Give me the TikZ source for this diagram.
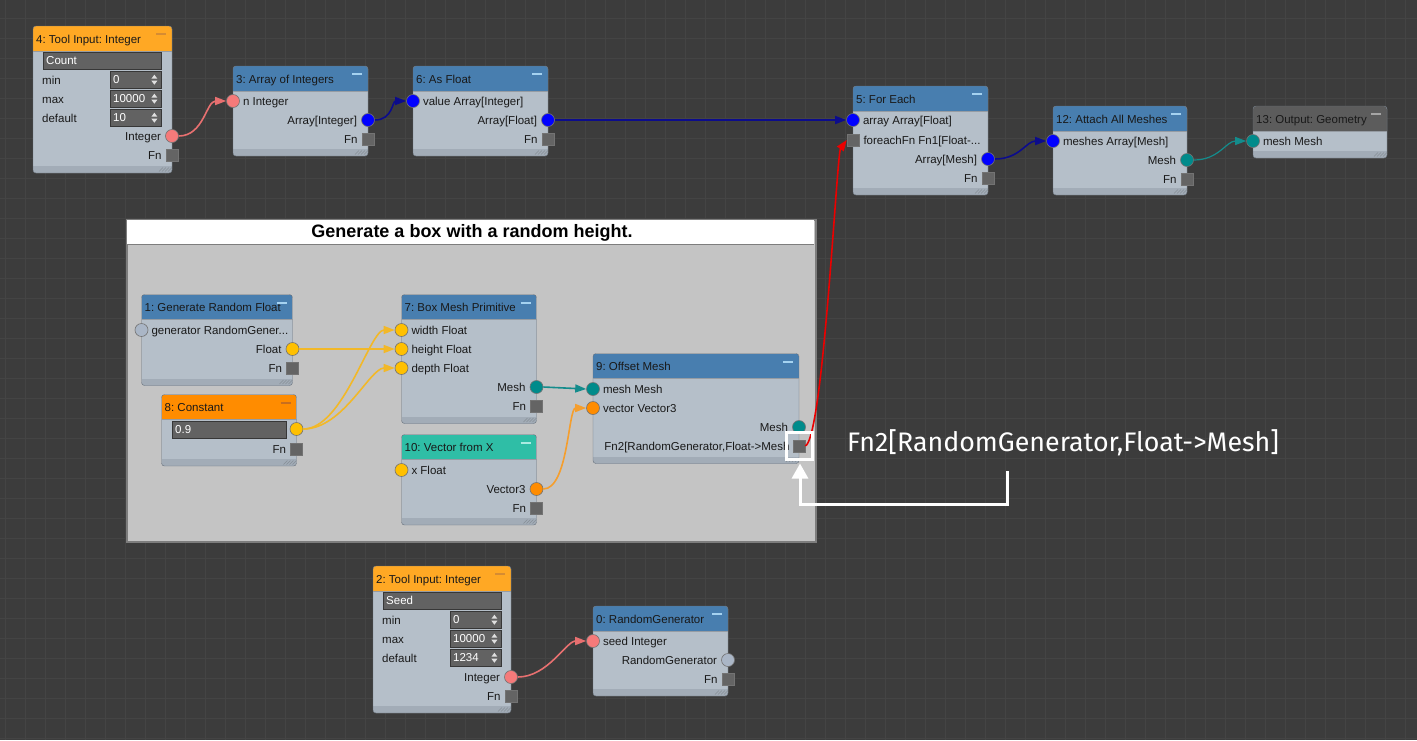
\documentclass[tikz,border=0pt]{standalone}
\usepackage{fontspec}
\setmainfont{Liberation Sans}
\newfontfamily\notefont{Fira Sans}
\usepackage{tikz}
\usetikzlibrary{arrows.meta}
\usetikzlibrary{positioning,calc}
\frenchspacing

\definecolor{canvasBg}{RGB}{60,60,60}
\definecolor{canvasGrid}{RGB}{68,68,68}
\definecolor{bodyFill}{RGB}{181,191,201}
\definecolor{bodyEdge}{RGB}{105,113,123}
\definecolor{footFill}{RGB}{162,172,183}
\definecolor{headBlue}{RGB}{72,126,175}
\definecolor{headInput}{RGB}{255,168,36}
\definecolor{headConst}{RGB}{255,140,0}
\definecolor{headVec}{RGB}{47,190,166}
\definecolor{headOut}{RGB}{92,92,92}
\definecolor{barBlue}{RGB}{165,210,240}
\definecolor{barInput}{RGB}{214,140,50}
\definecolor{barConst}{RGB}{200,110,30}
\definecolor{barVec}{RGB}{170,235,225}
\definecolor{barOut}{RGB}{165,165,165}
\definecolor{groupFill}{RGB}{196,196,196}
\definecolor{groupEdge}{RGB}{125,125,125}
\definecolor{fieldFill}{RGB}{98,98,98}
\definecolor{fieldEdge}{RGB}{55,55,55}
\definecolor{intPort}{RGB}{245,122,122}
\definecolor{intWire}{RGB}{232,112,112}
\definecolor{arrPort}{RGB}{0,0,255}
\definecolor{arrWire}{RGB}{12,12,140}
\definecolor{fltPort}{RGB}{255,192,0}
\definecolor{fltWire}{RGB}{242,184,40}
\definecolor{vecPort}{RGB}{255,140,0}
\definecolor{vecWire}{RGB}{245,158,45}
\definecolor{meshPort}{RGB}{0,139,139}
\definecolor{meshWire}{RGB}{20,140,140}
\definecolor{genPort}{RGB}{170,182,198}
\definecolor{fnPort}{RGB}{100,100,100}
\definecolor{fnWire}{RGB}{235,0,0}

% frame of one graph node: name, x, y, width, height, title, header colour, bar colour
\newcommand{\toolnode}[8]{%
	\node[nodeBody, minimum width=#4pt, minimum height=#5pt, anchor=north west] (#1) at (#2,#3) {};
	\begin{scope}
		\clip[rounded corners=3pt] (#1.north west) rectangle (#1.south east);
		\fill[#7] (#1.north west) rectangle ([yshift=-25pt]#1.north east);
		\fill[footFill] ([yshift=7pt]#1.south west) rectangle (#1.south east);
	\end{scope}
	\draw[bodyEdge, rounded corners=3pt] (#1.north west) rectangle (#1.south east);
	\draw[bodyEdge!70] ([yshift=-25pt]#1.north west) -- ([yshift=-25pt]#1.north east);
	\node[headText, anchor=west] (#1Title) at ([xshift=3pt,yshift=-13pt]#1.north west) {#6};
	\draw[#8, line width=2pt] ([xshift=-16pt,yshift=-8pt]#1.north east) -- ++(10,0);
	\foreach \g in {4,7,10,13}
		\draw[bodyEdge!80] ([xshift=-\g pt,yshift=1.5pt]#1.south east) -- ++(4,-4);
}

\begin{document}
\begin{tikzpicture}[
  x=1pt, y=-1pt,
  headText/.style={font=\fontsize{11.5}{13}\selectfont, text=black!90, inner sep=0pt, text height=9pt, text depth=1pt},
  rowText/.style={font=\fontsize{11.5}{13}\selectfont, text=black!90, inner sep=0pt, text height=9pt, text depth=1pt},
  fieldBox/.style={anchor=north west, fill=fieldFill, draw=fieldEdge, minimum height=17pt, inner xsep=3pt, inner ysep=0pt, align=left, text=white, font=\fontsize{11.5}{13}\selectfont},
  wire/.style={line width=1.6pt, -{Triangle[length=11pt,width=8pt]}}
]
	\tikzstyle{nodeBody} = [rectangle, fill=bodyFill, rounded corners=3pt, inner sep=0pt, outer sep=0pt]
	\tikzstyle{port} = [circle, draw=black!55, line width=0.6pt, minimum size=13pt, inner sep=0pt]
	\tikzstyle{fnSquare} = [rectangle, fill=fnPort, draw=black!55, line width=0.6pt, minimum size=12pt, inner sep=0pt]

	\useasboundingbox (0,0) rectangle (1417,740);
	\fill[canvasBg] (0,0) rectangle (1417,740);
	\foreach \gx in {5,25,...,1405}
		\draw[canvasGrid, line width=1pt] (\gx,0) -- (\gx,740);
	\foreach \gy in {18,38,...,738}
		\draw[canvasGrid, line width=1pt] (0,\gy) -- (1417,\gy);

	% group
	\node[fill=groupFill, draw=groupEdge, line width=2pt, minimum width=689pt, minimum height=322pt, anchor=north west, inner sep=0pt] (groupBox) at (126,219) {};
	\fill[white] (127,220) rectangle (814,244);
	\draw[groupEdge, line width=1pt] (127,244.5) -- (814,244.5);
	\node[font=\fontsize{18}{20}\selectfont\bfseries, inner sep=0pt] (groupTitle) at (472,233) {Generate a box with a random height.};

	% 4: tool input (count)
	\toolnode{toolInput4}{33}{26}{139}{147}{4: Tool Input: Integer}{headInput}{barInput}
	\node[fieldBox, text width=112pt] (n4Name) at (43,52) {Count};
	\node[rowText, anchor=west] (n4MinLabel) at (42,80) {min};
	\node[rowText, anchor=west] (n4MaxLabel) at (42,99) {max};
	\node[rowText, anchor=west] (n4DefLabel) at (42,118) {default};
	\node[fieldBox, text width=45pt] (n4Min) at (110,71) {0};
	\node[fieldBox, text width=45pt] (n4Max) at (110,90) {10000};
	\node[fieldBox, text width=45pt] (n4Def) at (110,109) {10};
	\node[port, fill=intPort] (n4Int) at (172,136) {};
	\node[rowText, left=4pt of n4Int] (n4IntLabel) {Integer};
	\node[fnSquare] (n4Fn) at (172,155) {};
	\node[rowText, left=4pt of n4Fn] (n4FnLabel) {Fn};

	% 3: array of integers
	\toolnode{arrayInts3}{233}{66}{135}{90}{3: Array of Integers}{headBlue}{barBlue}
	\node[port, fill=intPort] (n3In) at (233,101) {};
	\node[rowText, right=3pt of n3In] (n3InLabel) {n Integer};
	\node[port, fill=arrPort] (n3Out) at (368,120) {};
	\node[rowText, left=4pt of n3Out] (n3OutLabel) {Array[Integer]};
	\node[fnSquare] (n3Fn) at (368,139) {};
	\node[rowText, left=4pt of n3Fn] (n3FnLabel) {Fn};

	% 6: as float
	\toolnode{asFloat6}{413}{66}{135}{90}{6: As Float}{headBlue}{barBlue}
	\node[port, fill=arrPort] (n6In) at (413,101) {};
	\node[rowText, right=3pt of n6In] (n6InLabel) {value Array[Integer]};
	\node[port, fill=arrPort] (n6Out) at (548,120) {};
	\node[rowText, left=4pt of n6Out] (n6OutLabel) {Array[Float]};
	\node[fnSquare] (n6Fn) at (548,139) {};
	\node[rowText, left=4pt of n6Fn] (n6FnLabel) {Fn};

	% 5: for each
	\toolnode{forEach5}{853}{86}{135}{109}{5: For Each}{headBlue}{barBlue}
	\node[port, fill=arrPort] (n5In) at (853,120) {};
	\node[rowText, right=3pt of n5In] (n5InLabel) {array Array[Float]};
	\node[fnSquare] (n5FnIn) at (853,140) {};
	\node[rowText, right=4pt of n5FnIn] (n5FnInLabel) {foreachFn Fn1[Float-...};
	\node[port, fill=arrPort] (n5Out) at (988,159) {};
	\node[rowText, left=4pt of n5Out] (n5OutLabel) {Array[Mesh]};
	\node[fnSquare] (n5Fn) at (988,178) {};
	\node[rowText, left=4pt of n5Fn] (n5FnLabel) {Fn};

	% 12: attach all meshes
	\toolnode{attachMeshes12}{1053}{106}{134}{89}{12: Attach All Meshes}{headBlue}{barBlue}
	\node[port, fill=arrPort] (n12In) at (1053,141) {};
	\node[rowText, right=3pt of n12In] (n12InLabel) {meshes Array[Mesh]};
	\node[port, fill=meshPort] (n12Out) at (1187,160) {};
	\node[rowText, left=4pt of n12Out] (n12OutLabel) {Mesh};
	\node[fnSquare] (n12Fn) at (1187,179) {};
	\node[rowText, left=4pt of n12Fn] (n12FnLabel) {Fn};

	% 13: output
	\toolnode{outputGeo13}{1253}{106}{134}{52}{13: Output: Geometry}{headOut}{barOut}
	\node[port, fill=meshPort] (n13In) at (1253,141) {};
	\node[rowText, right=3pt of n13In] (n13InLabel) {mesh Mesh};

	% 1: generate random float
	\toolnode{randomFloat1}{141.5}{294.5}{151}{91}{1: Generate Random Float}{headBlue}{barBlue}
	\node[port, fill=genPort] (n1Gen) at (141.5,330) {};
	\node[rowText, right=3pt of n1Gen] (n1GenLabel) {generator RandomGener...};
	\node[port, fill=fltPort] (n1Out) at (292.5,349) {};
	\node[rowText, left=4pt of n1Out] (n1OutLabel) {Float};
	\node[fnSquare] (n1Fn) at (292.5,368) {};
	\node[rowText, left=4pt of n1Fn] (n1FnLabel) {Fn};

	% 8: constant
	\toolnode{constant8}{161.5}{394.5}{135}{71.5}{8: Constant}{headConst}{barConst}
	\node[fieldBox, text width=108pt] (n8Value) at (172,421) {0.9};
	\node[port, fill=fltPort] (n8Out) at (296.5,429) {};
	\node[fnSquare] (n8Fn) at (296.5,449) {};
	\node[rowText, left=4pt of n8Fn] (n8FnLabel) {Fn};

	% 7: box mesh primitive
	\toolnode{boxMesh7}{401.5}{294.5}{135}{129}{7: Box Mesh Primitive}{headBlue}{barBlue}
	\node[port, fill=fltPort] (n7Width) at (401.5,330) {};
	\node[rowText, right=3pt of n7Width] (n7WidthLabel) {width Float};
	\node[port, fill=fltPort] (n7Height) at (401.5,349) {};
	\node[rowText, right=3pt of n7Height] (n7HeightLabel) {height Float};
	\node[port, fill=fltPort] (n7Depth) at (401.5,368) {};
	\node[rowText, right=3pt of n7Depth] (n7DepthLabel) {depth Float};
	\node[port, fill=meshPort] (n7Out) at (536.5,387) {};
	\node[rowText, left=4pt of n7Out] (n7OutLabel) {Mesh};
	\node[fnSquare] (n7Fn) at (536.5,406) {};
	\node[rowText, left=4pt of n7Fn] (n7FnLabel) {Fn};

	% 10: vector from x
	\toolnode{vecFromX10}{401.5}{434.5}{135}{90.5}{10: Vector from X}{headVec}{barVec}
	\node[port, fill=fltPort] (n10In) at (401.5,470) {};
	\node[rowText, right=3pt of n10In] (n10InLabel) {x Float};
	\node[port, fill=vecPort] (n10Out) at (536.5,489) {};
	\node[rowText, left=4pt of n10Out] (n10OutLabel) {Vector3};
	\node[fnSquare] (n10Fn) at (536.5,508) {};
	\node[rowText, left=4pt of n10Fn] (n10FnLabel) {Fn};

	% 9: offset mesh
	\toolnode{offsetMesh9}{593}{353.5}{206}{110}{9: Offset Mesh}{headBlue}{barBlue}
	\node[port, fill=meshPort] (n9Mesh) at (593,389) {};
	\node[rowText, right=3pt of n9Mesh] (n9MeshLabel) {mesh Mesh};
	\node[port, fill=vecPort] (n9Vec) at (593,408) {};
	\node[rowText, right=3pt of n9Vec] (n9VecLabel) {vector Vector3};
	\node[port, fill=meshPort] (n9Out) at (799,427) {};
	\node[rowText, left=4pt of n9Out] (n9OutLabel) {Mesh};
	\node[fnSquare] (n9Fn) at (799,446) {};
	\node[rowText, left=3pt of n9Fn] (n9FnLabel) {Fn2[RandomGenerator,Float->Mesh};

	% 2: tool input (seed)
	\toolnode{toolInput2}{373}{566}{138}{147}{2: Tool Input: Integer}{headInput}{barInput}
	\node[fieldBox, text width=112pt] (n2Name) at (383,592) {Seed};
	\node[rowText, anchor=west] (n2MinLabel) at (382,620) {min};
	\node[rowText, anchor=west] (n2MaxLabel) at (382,639) {max};
	\node[rowText, anchor=west] (n2DefLabel) at (382,658) {default};
	\node[fieldBox, text width=45pt] (n2Min) at (450,611) {0};
	\node[fieldBox, text width=45pt] (n2Max) at (450,630) {10000};
	\node[fieldBox, text width=45pt] (n2Def) at (450,649) {1234};
	\node[port, fill=intPort] (n2Int) at (511,677) {};
	\node[rowText, left=4pt of n2Int] (n2IntLabel) {Integer};
	\node[fnSquare] (n2Fn) at (511,696) {};
	\node[rowText, left=4pt of n2Fn] (n2FnLabel) {Fn};

	% 0: random generator
	\toolnode{randomGen0}{593}{606}{135}{90}{0: RandomGenerator}{headBlue}{barBlue}
	\node[port, fill=intPort] (n0In) at (593,641) {};
	\node[rowText, right=3pt of n0In] (n0InLabel) {seed Integer};
	\node[port, fill=genPort] (n0Out) at (728,660) {};
	\node[rowText, left=4pt of n0Out] (n0OutLabel) {RandomGenerator};
	\node[fnSquare] (n0Fn) at (728,679) {};
	\node[rowText, left=4pt of n0Fn] (n0FnLabel) {Fn};

	% spinner arrows
	\foreach \f in {n4Min,n4Max,n4Def,n2Min,n2Max,n2Def} {
		\fill[white!75!gray] ([xshift=-10pt,yshift=1pt]\f.east) -- ++(6,0) -- ++(-3,-4) -- cycle;
		\fill[white!75!gray] ([xshift=-10pt,yshift=-1pt]\f.east) -- ++(6,0) -- ++(-3,4) -- cycle;
	}

	% wires
	\draw[wire, intWire] (n4Int.east) .. controls +(25,0) and +(-20,0) .. (n3In.west);
	\draw[wire, arrWire] (n3Out.east) .. controls +(18,0) and +(-14,0) .. (n6In.west);
	\draw[wire, arrWire] (n6Out.east) -- (n5In.west);
	\draw[wire, arrWire] (n5Out.east) .. controls +(25,0) and +(-20,0) .. (n12In.west);
	\draw[wire, meshWire, line width=1.2pt] (n12Out.east) .. controls +(25,0) and +(-20,0) .. (n13In.west);
	\draw[wire, fltWire] (n1Out.east) -- (n7Height.west);
	\draw[wire, fltWire] (n8Out.east) .. controls +(40,0) and +(-25,0) .. (n7Width.west);
	\draw[wire, fltWire] (n8Out.east) .. controls +(40,0) and +(-25,0) .. (n7Depth.west);
	\draw[wire, meshWire] (n7Out.east) -- (n9Mesh.west);
	\draw[wire, vecWire] (n10Out.east) .. controls +(25,0) and +(-18,0) .. (n9Vec.west);
	\draw[wire, fnWire] (n9Fn.east) .. controls +(18,-8) and +(-10,14) .. (n5FnIn.west);
	\draw[wire, intWire] (n2Int.east) .. controls +(30,0) and +(-20,0) .. (n0In.west);

	% callout
	\node[draw=white, line width=3pt, minimum width=26pt, minimum height=27pt, inner sep=0pt] (fnHighlight) at (799.5,445.5) {};
	\node[font=\notefont\fontsize{26.8}{30}\selectfont, text=white, anchor=west, inner sep=0pt] (fnNote) at (847,443) {Fn2[RandomGenerator,Float->Mesh]};
	\coordinate (noteStart) at (1007,471);
	\coordinate (noteCorner) at (800,504);
	\draw[white, line width=3pt, -{Triangle[length=15pt,width=16pt]}] (noteStart) |- (noteCorner) -- ([yshift=-3pt]noteCorner |- fnHighlight.south);
\end{tikzpicture}
\end{document}
